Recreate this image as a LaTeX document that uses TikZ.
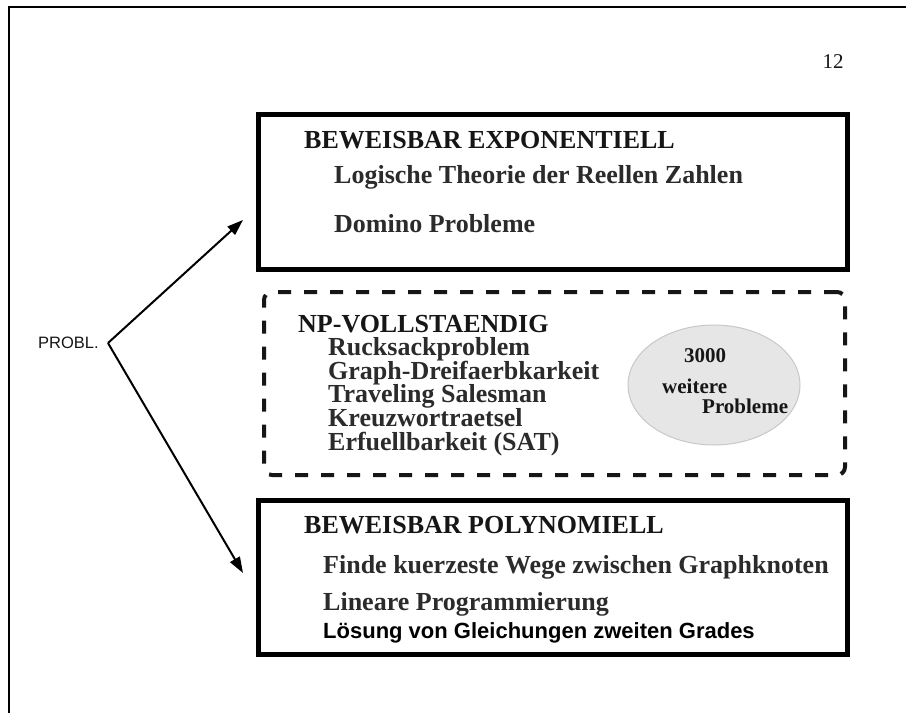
\documentclass[tikz,border=0pt]{standalone}
\usepackage{fontspec}
\setmainfont{Liberation Serif}
\newfontfamily\arialf{Liberation Sans}
\usetikzlibrary{arrows.meta,shapes.geometric}
\definecolor{itemgray}{HTML}{2B2B2B}
\definecolor{headblack}{HTML}{161616}
\definecolor{ellfill}{HTML}{E6E6E6}
\definecolor{elldraw}{HTML}{C8C8C8}
\tikzset{
  framebox/.style={draw=black, line width=5pt, minimum width=589pt, minimum height=155pt, anchor=north west, inner sep=0pt},
  npbox/.style={draw=headblack, line width=4pt, dash pattern=on 13pt off 13pt, rounded corners=8pt, minimum width=581pt, minimum height=183pt, anchor=north west, inner sep=0pt},
  head/.style={anchor=base west, inner sep=0pt, text=headblack, font=\fontsize{26}{26}\selectfont\bfseries},
  item/.style={anchor=base west, inner sep=0pt, text=itemgray, font=\fontsize{26}{26}\selectfont\bfseries},
  elltext/.style={anchor=base west, inner sep=0pt, text height=14pt, text depth=4pt, text=headblack, font=\fontsize{21}{21}\selectfont\bfseries},
  arr/.style={line width=2pt, -{Triangle[length=16pt,width=11pt]}},
  cloud/.style={ellipse, fill=ellfill, draw=elldraw, line width=1pt, minimum width=172pt, minimum height=120pt, inner sep=0pt}
}
\newcommand{\npline}[1]{\hbox{\hspace*{30pt}\textcolor{itemgray}{#1}}}
\begin{document}
\begin{tikzpicture}[x=1pt,y=-1pt]
\useasboundingbox[fill=white] (0,0) rectangle (906,713);
% page frame
\draw[line width=2.5pt] (9,713) -- (9,7) -- (906,7);
\node[anchor=base, inner sep=0pt, font=\fontsize{21}{21}\selectfont, text=headblack] (pnum) at (833,68) {12};

% boxes
\node[framebox] (top) at (256,112) {};
\node[npbox] (np) at (262,290) {};
\node[framebox, minimum height=154pt] (bot) at (256,498) {};
\node[cloud] (ell) at (714,385) {};

% top box text
\node[head] (h1) at (304,148) {BEWEISBAR EXPONENTIELL};
\node[item] (t1a) at (334,183) {Logische Theorie der Reellen Zahlen};
\node[item] (t1b) at (334,232) {Domino Probleme};

% NP text (header and list as one block)
\node[head] (nplist) at (298,332) {\vtop{\baselineskip=23.6pt\lineskiplimit=-100pt\lineskip=0pt
  \hbox{NP-VOLLSTAENDIG}
  \npline{Rucksackproblem}
  \npline{Graph-Dreifaerbkarkeit}
  \npline{Traveling Salesman}
  \npline{Kreuzwortraetsel}
  \npline{Erfuellbarkeit (SAT)}}};

% ellipse text
\node[elltext, anchor=base] (e1) at (705,362) {3000};
\node[elltext] (e2) at (662,393) {weitere};
\node[elltext] (e3) at (702,413) {Probleme};

% bottom box text
\node[head] (h3) at (304,533) {BEWEISBAR POLYNOMIELL};
\node[item] (b1) at (323,573) {Finde kuerzeste Wege zwischen Graphknoten};
\node[item] (b2) at (323,610) {Lineare Programmierung};
\node[anchor=base west, inner sep=0pt, font=\arialf\fontsize{22}{22}\selectfont\bfseries] (b3) at (323,638) {Lösung von Gleichungen zweiten Grades};

% PROBL and arrows
\node[anchor=west, inner sep=0pt, font=\arialf\fontsize{16.5}{16.5}\selectfont, text=headblack] (probl) at (38,343) {PROBL.};
\coordinate (v) at (108,343);
\coordinate (tipup) at (243,220);
\coordinate (tipdown) at (243,573);
\draw[arr] (v) -- (tipup);
\draw[arr] (v) -- (tipdown);
\end{tikzpicture}
\end{document}
